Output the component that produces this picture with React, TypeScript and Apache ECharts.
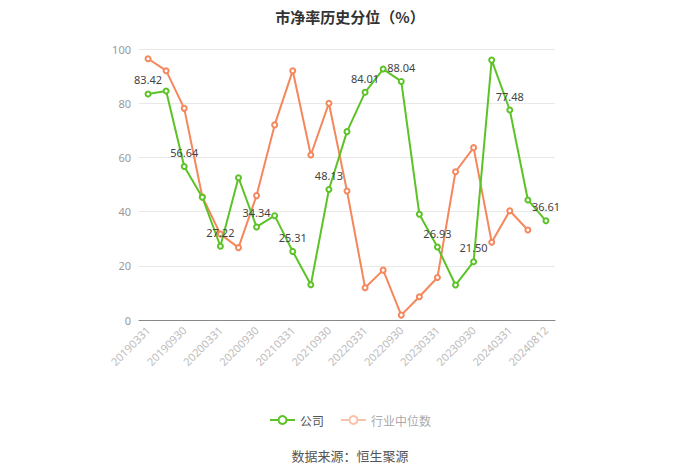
import React, { useEffect, useRef } from "react";
import * as echarts from "echarts";

const categories = [
  "20190331", "20190630", "20190930", "20191231",
  "20200331", "20200630", "20200930", "20201231",
  "20210331", "20210630", "20210930", "20211231",
  "20220331", "20220630", "20220930", "20221231",
  "20230331", "20230630", "20230930", "20231231",
  "20240331", "20240630", "20240812",
];

const companyValues = [
  83.42, 84.5, 56.64, 45.3, 27.22, 52.5, 34.34, 38.5, 25.31, 13.0, 48.13, 69.5,
  84.01, 92.6, 88.04, 39.0, 26.93, 12.9, 21.5, 95.9, 77.48, 44.3, 36.61,
];

const industryValues: (number | null)[] = [
  96.4, 92.0, 78.1, 45.5, 31.7, 26.7, 45.9, 72.0, 92.0, 60.9, 80.0, 47.6,
  11.9, 18.4, 1.8, 8.6, 15.7, 54.7, 63.6, 28.7, 40.3, 33.2, null,
];

const yTicks = [0, 20, 40, 60, 80, 100];

const GREEN = "#5cc326";
const ORANGE = "#f5875c";

export default function App() {
  const ref = useRef<HTMLDivElement>(null);
  useEffect(() => {
    if (!ref.current) return;
    const chart = echarts.init(ref.current, undefined, { renderer: "svg" });
    chart.setOption({
      animation: false,
      backgroundColor: "#ffffff",
      title: {
        text: "市净率历史分位（%）",
        left: "center",
        top: 4,
        textStyle: { fontSize: 15, fontWeight: "bold", color: "#333", fontFamily: "Noto Sans CJK SC" },
      },
      grid: { left: 139, right: 145, top: 49, bottom: 154 },
      legend: {
        top: 409,
        left: "center",
        itemWidth: 25,
        itemHeight: 10,
        itemGap: 16,
        textStyle: { fontSize: 12, color: "#555", fontFamily: "Noto Sans CJK SC" },
        data: [
          { name: "公司" },
          {
            name: "行业中位数",
            itemStyle: { color: "#f9c2ab", borderColor: "#f9c2ab" },
            lineStyle: { color: "#f9c2ab" },
            textStyle: { color: "#aaa" },
          },
        ],
      },
      graphic: [
        {
          type: "text",
          left: "center",
          top: 449,
          style: {
            text: "数据来源：恒生聚源",
            fill: "#555",
            fontSize: 13,
            fontFamily: "Noto Sans CJK SC",
          },
        },
      ],
      xAxis: {
        type: "category",
        data: categories,
        boundaryGap: true,
        axisLine: { lineStyle: { color: "#888" } },
        axisTick: { alignWithLabel: true, interval: 1, lineStyle: { color: "#888" } },
        axisLabel: {
          interval: 1,
          rotate: 45,
          color: "#bbb",
          fontSize: 11,
          fontFamily: "Noto Sans",
        },
      },
      yAxis: {
        type: "value",
        min: yTicks[0],
        max: yTicks[yTicks.length - 1],
        interval: 20,
        axisLine: { show: false },
        axisTick: { show: false },
        axisLabel: { color: "#999", fontSize: 11, fontFamily: "Noto Sans" },
        splitLine: { lineStyle: { color: "#e8e8e8" } },
      },
      series: [
        {
          name: "公司",
          type: "line",
          data: companyValues,
          symbol: "emptyCircle",
          symbolSize: 5,
          itemStyle: { color: GREEN },
          lineStyle: { color: GREEN, width: 2 },
          label: {
            show: true,
            position: "top",
            color: "#444",
            fontSize: 11,
            fontFamily: "Noto Sans",
            formatter: (p: any) => (p.dataIndex % 2 === 0 ? Number(p.value).toFixed(2) : ""),
          },
          z: 3,
        },
        {
          name: "行业中位数",
          type: "line",
          data: industryValues,
          symbol: "emptyCircle",
          symbolSize: 5,
          itemStyle: { color: ORANGE },
          lineStyle: { color: ORANGE, width: 2 },
          z: 2,
        },
      ],
    });
    return () => chart.dispose();
  }, []);
  return (
    <div
      ref={ref}
      style={{ position: "fixed", left: 0, top: 0, width: 700, height: 474 }}
    />
  );
}
